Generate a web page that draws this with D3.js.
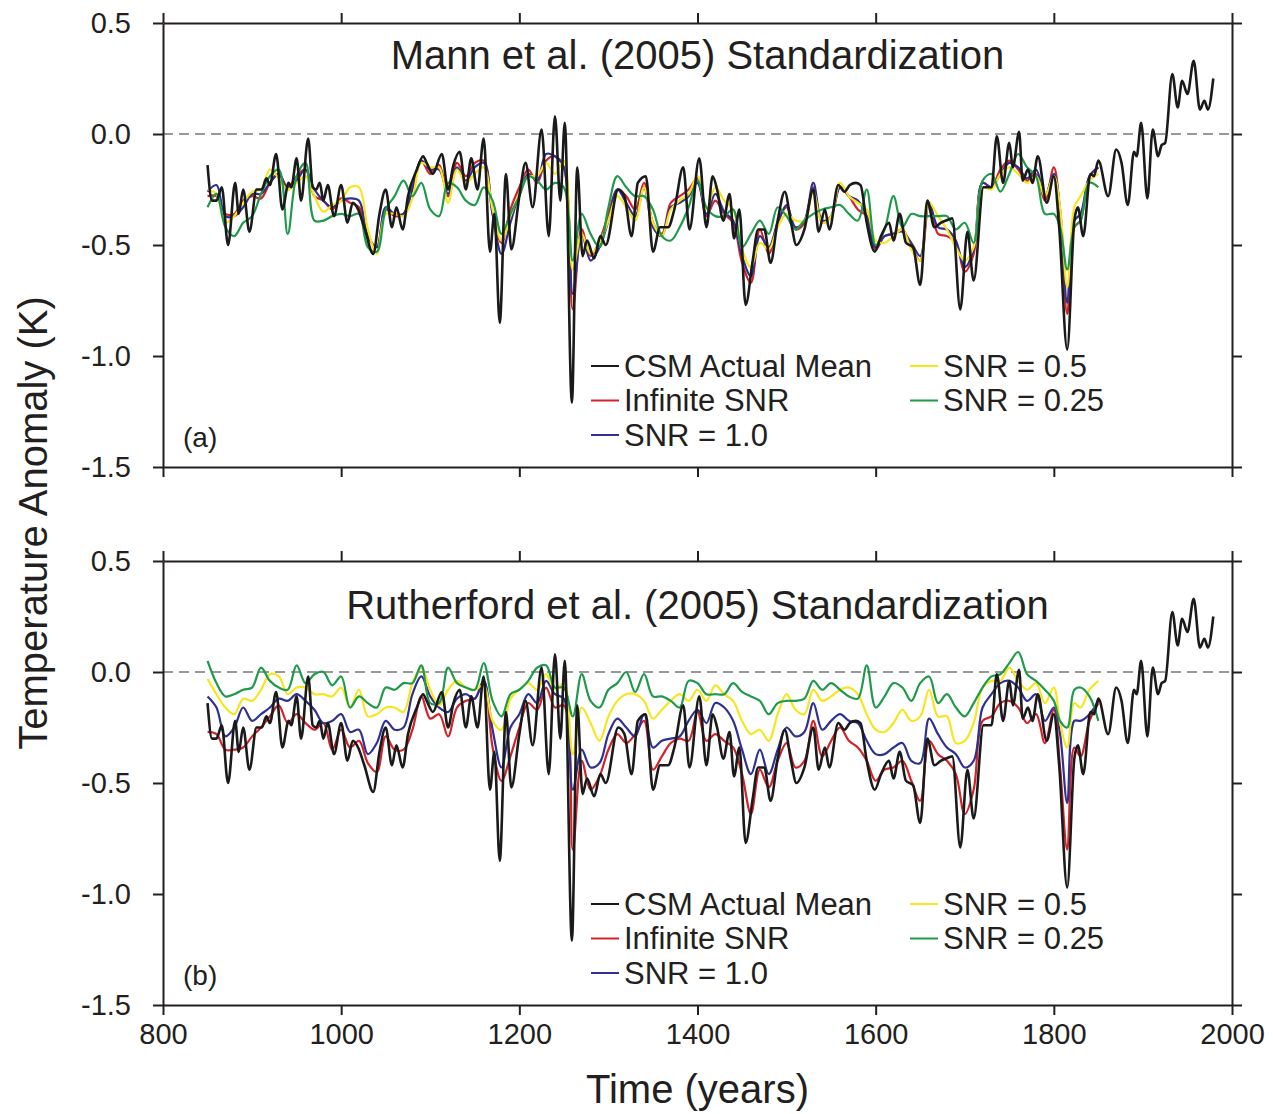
<!DOCTYPE html>
<html>
<head>
<meta charset="utf-8">
<script src="https://cdnjs.cloudflare.com/ajax/libs/d3/7.8.5/d3.min.js"></script>
<style>
  body { margin: 0; background: #fff; }
  svg text { font-family: "Liberation Sans", Arial, sans-serif; fill: #231f20; }
</style>
</head>
<body>
<div id="wrapper"></div>
<script>
// CSM actual mean (turning points)
var blackYears = [850,855,860,866,873,881,885,890,897,905,911,916,920,927,934,941,944,950,955,963,968,972,976,980,985,992,1000,1007,1013,1019,1026,1036,1043,1050,1057,1062,1069,1075,1085,1092,1096,1103,1113,1120,1126,1133,1140,1146,1153,1160,1167,1172,1178,1185,1191,1200,1207,1215,1225,1233,1240,1246,1251,1259,1265,1271,1276,1284,1291,1297,1311,1318,1326,1333,1342,1350,1358,1367,1374,1384,1391,1402,1410,1417,1422,1429,1436,1441,1447,1454,1462,1468,1475,1482,1490,1498,1505,1511,1520,1530,1536,1543,1548,1558,1565,1571,1578,1583,1590,1599,1606,1615,1620,1627,1634,1642,1650,1658,1666,1673,1679,1686,1695,1703,1710,1721,1730,1736,1743,1750,1754,1761,1765,1771,1776,1782,1792,1800,1806,1815,1823,1827,1833,1841,1845,1850,1861,1870,1876,1883,1890,1893,1898,1905,1911,1917,1921,1925,1933,1939,1944,1950,1957,1964,1969,1973,1979];
var csmMean = [-0.14,-0.30,-0.30,-0.24,-0.50,-0.22,-0.36,-0.25,-0.44,-0.25,-0.25,-0.20,-0.23,-0.09,-0.34,-0.22,-0.24,-0.11,-0.30,-0.02,-0.24,-0.25,-0.22,-0.30,-0.23,-0.37,-0.23,-0.40,-0.31,-0.34,-0.42,-0.54,-0.36,-0.25,-0.42,-0.33,-0.43,-0.28,-0.16,-0.10,-0.13,-0.18,-0.09,-0.25,-0.14,-0.08,-0.25,-0.11,-0.25,-0.02,-0.53,-0.36,-0.85,-0.18,-0.52,-0.28,-0.13,-0.33,0.02,-0.46,0.08,-0.30,0.05,-1.21,-0.15,-0.55,-0.48,-0.56,-0.46,-0.50,-0.25,-0.28,-0.46,-0.22,-0.19,-0.53,-0.42,-0.42,-0.34,-0.15,-0.43,-0.11,-0.42,-0.19,-0.25,-0.39,-0.27,-0.47,-0.34,-0.77,-0.57,-0.43,-0.43,-0.58,-0.39,-0.26,-0.40,-0.50,-0.43,-0.25,-0.44,-0.34,-0.43,-0.23,-0.26,-0.23,-0.22,-0.23,-0.40,-0.53,-0.46,-0.40,-0.48,-0.36,-0.49,-0.51,-0.68,-0.30,-0.42,-0.40,-0.39,-0.38,-0.79,-0.44,-0.66,-0.24,-0.24,-0.01,-0.22,-0.04,-0.15,0.01,-0.21,-0.16,-0.22,-0.10,-0.31,-0.19,-0.42,-0.97,-0.39,-0.33,-0.46,-0.18,-0.19,-0.12,-0.28,-0.07,-0.13,-0.32,-0.08,-0.10,0.05,-0.29,0.02,-0.10,-0.05,-0.04,0.27,0.12,0.24,0.18,0.33,0.11,0.15,0.11,0.25];

// pseudoproxy reconstruction years
var proxyYears = [850,860,870,880,890,900,910,920,930,940,950,960,970,980,990,1000,1010,1020,1030,1040,1050,1060,1070,1080,1090,1100,1110,1120,1130,1140,1150,1160,1170,1180,1190,1200,1210,1220,1230,1240,1250,1260,1270,1280,1290,1300,1310,1320,1330,1340,1350,1360,1370,1380,1390,1400,1410,1420,1430,1440,1450,1460,1470,1480,1490,1500,1510,1520,1530,1540,1550,1560,1570,1580,1590,1600,1610,1620,1630,1640,1650,1660,1670,1680,1690,1700,1710,1720,1730,1740,1750,1760,1770,1780,1790,1800,1807,1815,1823,1830,1840,1850];

// (a) Mann et al. (2005) standardization
var mannInf = [-0.28,-0.28,-0.36,-0.36,-0.30,-0.28,-0.29,-0.22,-0.18,-0.24,-0.19,-0.16,-0.28,-0.30,-0.34,-0.29,-0.31,-0.33,-0.46,-0.51,-0.34,-0.37,-0.36,-0.24,-0.12,-0.18,-0.14,-0.28,-0.13,-0.19,-0.13,-0.12,-0.36,-0.49,-0.34,-0.24,-0.16,-0.22,-0.12,-0.10,-0.15,-0.79,-0.43,-0.55,-0.48,-0.36,-0.25,-0.28,-0.34,-0.22,-0.40,-0.45,-0.31,-0.28,-0.25,-0.20,-0.37,-0.30,-0.36,-0.40,-0.58,-0.67,-0.43,-0.54,-0.40,-0.33,-0.43,-0.40,-0.24,-0.40,-0.37,-0.24,-0.28,-0.34,-0.37,-0.52,-0.46,-0.45,-0.43,-0.51,-0.57,-0.31,-0.45,-0.46,-0.49,-0.62,-0.54,-0.22,-0.24,-0.16,-0.12,-0.16,-0.21,-0.18,-0.30,-0.15,-0.36,-0.81,-0.42,-0.39,-0.19,-0.15];
var mannSnr1 = [-0.26,-0.23,-0.37,-0.37,-0.33,-0.27,-0.27,-0.22,-0.18,-0.25,-0.21,-0.16,-0.25,-0.30,-0.33,-0.30,-0.29,-0.30,-0.46,-0.51,-0.33,-0.36,-0.36,-0.25,-0.12,-0.16,-0.16,-0.27,-0.15,-0.21,-0.15,-0.13,-0.36,-0.54,-0.40,-0.27,-0.18,-0.21,-0.09,-0.10,-0.15,-0.72,-0.45,-0.57,-0.51,-0.39,-0.25,-0.31,-0.37,-0.24,-0.42,-0.46,-0.33,-0.31,-0.28,-0.22,-0.36,-0.27,-0.35,-0.39,-0.55,-0.64,-0.46,-0.51,-0.40,-0.32,-0.42,-0.39,-0.22,-0.39,-0.37,-0.24,-0.28,-0.30,-0.37,-0.51,-0.46,-0.45,-0.44,-0.49,-0.55,-0.31,-0.42,-0.43,-0.48,-0.60,-0.52,-0.22,-0.24,-0.18,-0.13,-0.15,-0.20,-0.16,-0.28,-0.18,-0.34,-0.76,-0.39,-0.36,-0.19,-0.15];
var mannSnr05 = [-0.25,-0.27,-0.40,-0.37,-0.31,-0.26,-0.25,-0.16,-0.20,-0.25,-0.22,-0.19,-0.28,-0.35,-0.32,-0.30,-0.24,-0.24,-0.43,-0.54,-0.36,-0.36,-0.37,-0.29,-0.13,-0.15,-0.15,-0.31,-0.16,-0.22,-0.18,-0.15,-0.34,-0.48,-0.37,-0.27,-0.19,-0.19,-0.13,-0.18,-0.12,-0.61,-0.45,-0.54,-0.49,-0.39,-0.28,-0.33,-0.39,-0.24,-0.40,-0.46,-0.34,-0.30,-0.27,-0.19,-0.34,-0.24,-0.30,-0.34,-0.52,-0.60,-0.49,-0.52,-0.42,-0.36,-0.39,-0.39,-0.26,-0.40,-0.37,-0.22,-0.28,-0.31,-0.34,-0.48,-0.49,-0.46,-0.43,-0.52,-0.57,-0.31,-0.37,-0.43,-0.51,-0.57,-0.51,-0.24,-0.25,-0.18,-0.15,-0.18,-0.22,-0.19,-0.28,-0.19,-0.33,-0.69,-0.33,-0.28,-0.21,-0.18];
var mannSnr025 = [-0.33,-0.27,-0.42,-0.46,-0.40,-0.37,-0.27,-0.19,-0.16,-0.45,-0.19,-0.13,-0.39,-0.39,-0.37,-0.36,-0.37,-0.36,-0.51,-0.53,-0.34,-0.28,-0.21,-0.28,-0.22,-0.34,-0.37,-0.22,-0.24,-0.30,-0.32,-0.24,-0.30,-0.45,-0.36,-0.28,-0.19,-0.21,-0.25,-0.22,-0.24,-0.57,-0.36,-0.45,-0.51,-0.33,-0.19,-0.24,-0.28,-0.28,-0.34,-0.46,-0.48,-0.42,-0.33,-0.21,-0.33,-0.37,-0.37,-0.34,-0.51,-0.45,-0.39,-0.45,-0.33,-0.37,-0.43,-0.39,-0.36,-0.34,-0.33,-0.32,-0.36,-0.39,-0.25,-0.50,-0.43,-0.28,-0.42,-0.36,-0.37,-0.37,-0.37,-0.37,-0.43,-0.40,-0.49,-0.21,-0.18,-0.26,-0.18,-0.09,-0.15,-0.19,-0.36,-0.36,-0.42,-0.61,-0.42,-0.39,-0.22,-0.24];

// (b) Rutherford et al. (2005) standardization
var ruthInf = [-0.27,-0.28,-0.35,-0.35,-0.34,-0.29,-0.25,-0.20,-0.15,-0.23,-0.19,-0.23,-0.26,-0.23,-0.35,-0.26,-0.34,-0.31,-0.41,-0.45,-0.29,-0.35,-0.35,-0.26,-0.11,-0.21,-0.19,-0.29,-0.16,-0.13,-0.12,-0.04,-0.34,-0.49,-0.38,-0.25,-0.14,-0.17,-0.07,-0.16,-0.15,-0.80,-0.40,-0.53,-0.47,-0.35,-0.28,-0.32,-0.28,-0.22,-0.44,-0.38,-0.32,-0.30,-0.31,-0.18,-0.31,-0.28,-0.31,-0.34,-0.46,-0.64,-0.44,-0.52,-0.40,-0.32,-0.43,-0.40,-0.22,-0.38,-0.31,-0.25,-0.31,-0.34,-0.40,-0.49,-0.44,-0.43,-0.40,-0.49,-0.58,-0.31,-0.37,-0.40,-0.46,-0.64,-0.53,-0.22,-0.20,-0.14,-0.13,-0.16,-0.23,-0.19,-0.32,-0.17,-0.43,-0.80,-0.34,-0.38,-0.22,-0.14];
var ruthSnr1 = [-0.11,-0.16,-0.29,-0.25,-0.16,-0.22,-0.19,-0.16,-0.12,-0.13,-0.10,-0.13,-0.17,-0.23,-0.22,-0.19,-0.27,-0.26,-0.37,-0.32,-0.22,-0.26,-0.25,-0.10,-0.02,-0.11,-0.16,-0.18,-0.12,-0.10,-0.12,-0.04,-0.26,-0.43,-0.25,-0.19,-0.10,-0.14,-0.04,-0.10,-0.12,-0.53,-0.35,-0.43,-0.41,-0.28,-0.21,-0.25,-0.29,-0.19,-0.34,-0.31,-0.30,-0.29,-0.22,-0.17,-0.23,-0.14,-0.16,-0.22,-0.35,-0.46,-0.35,-0.46,-0.35,-0.25,-0.29,-0.27,-0.14,-0.26,-0.22,-0.19,-0.22,-0.23,-0.31,-0.37,-0.37,-0.34,-0.32,-0.40,-0.41,-0.21,-0.28,-0.34,-0.37,-0.43,-0.40,-0.16,-0.10,-0.05,-0.04,-0.07,-0.13,-0.10,-0.22,-0.16,-0.28,-0.59,-0.22,-0.22,-0.19,-0.13];
var ruthSnr05 = [-0.03,-0.10,-0.16,-0.19,-0.12,-0.13,-0.08,-0.01,-0.02,-0.10,-0.07,-0.07,-0.10,-0.10,-0.11,-0.07,-0.16,-0.08,-0.20,-0.19,-0.16,-0.16,-0.18,-0.05,0.02,-0.08,-0.15,-0.08,-0.04,-0.07,-0.08,-0.06,-0.22,-0.26,-0.12,-0.08,-0.05,-0.08,-0.01,-0.08,-0.05,-0.37,-0.16,-0.23,-0.31,-0.20,-0.13,-0.10,-0.10,-0.13,-0.21,-0.17,-0.13,-0.10,-0.13,-0.08,-0.13,-0.06,-0.10,-0.13,-0.22,-0.28,-0.26,-0.31,-0.19,-0.10,-0.17,-0.19,-0.08,-0.13,-0.11,-0.08,-0.07,-0.10,-0.19,-0.26,-0.27,-0.23,-0.17,-0.22,-0.20,-0.08,-0.20,-0.20,-0.32,-0.31,-0.23,-0.07,-0.04,-0.04,0.02,-0.04,-0.08,-0.05,-0.14,-0.07,-0.23,-0.34,-0.14,-0.16,-0.08,-0.04];
var ruthSnr025 = [0.05,-0.05,-0.11,-0.10,-0.08,-0.07,0.02,-0.04,-0.07,-0.08,0.03,-0.05,-0.01,0.00,-0.06,-0.02,-0.16,-0.11,-0.14,-0.16,-0.07,-0.08,-0.05,-0.05,0.03,-0.14,-0.14,0.02,-0.05,-0.07,-0.08,0.04,-0.13,-0.20,-0.10,-0.08,-0.04,0.02,0.03,-0.07,-0.07,-0.20,-0.01,-0.13,-0.16,-0.08,-0.05,0.00,-0.09,-0.01,-0.11,-0.11,-0.13,-0.16,-0.04,-0.05,-0.10,-0.10,-0.10,-0.05,-0.09,-0.11,-0.13,-0.19,-0.14,-0.13,-0.13,-0.12,-0.04,-0.08,-0.05,-0.08,-0.11,-0.12,0.03,-0.16,-0.11,-0.05,-0.07,-0.13,-0.05,-0.02,-0.14,-0.10,-0.16,-0.20,-0.14,-0.07,-0.02,-0.01,0.04,0.09,-0.01,-0.04,-0.08,-0.13,-0.22,-0.25,-0.08,-0.07,-0.11,-0.22];

var xTicks = [800,1000,1200,1400,1600,1800,2000];
var yTicks = [-1.5,-1.0,-0.5,0.0,0.5];
var seriesNames = ['CSM Actual Mean','Infinite SNR','SNR = 1.0','SNR = 0.5','SNR = 0.25'];
var seriesColors = ['#1a1a1a','#d2232a','#2e3192','#f7e51e','#1f9a4a'];

var panels = [
  {title:'Mann et al. (2005) Standardization', tag:'(a)', top:23, titleY:46, series:[mannInf,mannSnr1,mannSnr05,mannSnr025]},
  {title:'Rutherford et al. (2005) Standardization', tag:'(b)', top:561, titleY:58, series:[ruthInf,ruthSnr1,ruthSnr05,ruthSnr025]}
];

var W = 1273, H = 1114, left = 163, right = 1232, ph = 444;

var svg = d3.select('#wrapper').append('svg')
            .attr('width', W)
            .attr('height', H);

var xscale = d3.scaleLinear().domain([800,2000]).range([left,right]);
var fmt = function(d){ return d.toFixed(1); };

panels.forEach(function(p, pi){
  var yscale = d3.scaleLinear().domain([-1.5,0.5]).range([p.top+ph, p.top]);
  var g = svg.append('g').attr('class','panel');

  // zero reference
  g.append('line')
   .attr('x1', left).attr('x2', right)
   .attr('y1', yscale(0)).attr('y2', yscale(0))
   .style('stroke','#999').style('stroke-width',2).style('stroke-dasharray','10,6');

  var line = d3.line()
               .x(function(d){ return xscale(d[0]); })
               .y(function(d){ return yscale(d[1]); })
               .curve(d3.curveCatmullRom.alpha(0.5));

  // proxies: red, blue, yellow, green
  p.series.forEach(function(vals, si){
    g.append('path')
     .datum(proxyYears.map(function(y,i){ return [y, vals[i]]; }))
     .attr('d', line)
     .style('fill','none')
     .style('stroke', seriesColors[si+1])
     .style('stroke-width', 2.2);
  });

  // CSM mean on top
  g.append('path')
   .datum(blackYears.map(function(y,i){ return [y, csmMean[i]]; }))
   .attr('d', line.curve(d3.curveMonotoneX))
   .style('fill','none')
   .style('stroke', seriesColors[0])
   .style('stroke-width', 2.6);

  // frame axes, ticks pointing out on all sides
  var bottom = d3.axisBottom(xscale).tickValues(xTicks).tickSize(10).tickSizeOuter(0).tickPadding(8)
                 .tickFormat(function(d){ return String(d); });
  if(pi===0){ bottom.tickFormat(''); }
  g.append('g').attr('class','axis').attr('transform','translate(0,'+(p.top+ph)+')').call(bottom);
  g.append('g').attr('class','axis').attr('transform','translate(0,'+p.top+')')
   .call(d3.axisTop(xscale).tickValues(xTicks).tickSize(10).tickSizeOuter(0).tickFormat(''));
  g.append('g').attr('class','axis').attr('transform','translate('+left+',0)')
   .call(d3.axisLeft(yscale).tickValues(yTicks).tickSize(10).tickSizeOuter(0).tickPadding(22).tickFormat(fmt));
  g.append('g').attr('class','axis').attr('transform','translate('+right+',0)')
   .call(d3.axisRight(yscale).tickValues(yTicks).tickSize(10).tickSizeOuter(0).tickFormat(''));

  g.append('text')
   .attr('x', (left+right)/2).attr('y', p.top+p.titleY)
   .attr('text-anchor','middle')
   .style('font-size','40px')
   .text(p.title);

  g.append('text')
   .attr('x', 183).attr('y', p.top+414)
   .attr('dominant-baseline','central')
   .style('font-size','28px')
   .text(p.tag);

  // legend, two columns
  var items = [[0,591,343],[1,591,377.5],[2,591,412],[3,910,343],[4,910,377.5]];
  var leg = g.selectAll('g.leg').data(items).enter().append('g').attr('class','leg');
  leg.append('line')
     .attr('x1', function(d){ return d[1]; })
     .attr('x2', function(d){ return d[1]+28; })
     .attr('y1', function(d){ return p.top+d[2]; })
     .attr('y2', function(d){ return p.top+d[2]; })
     .style('stroke', function(d){ return seriesColors[d[0]]; })
     .style('stroke-width', 2);
  leg.append('text')
     .attr('x', function(d){ return d[1]+33; })
     .attr('y', function(d){ return p.top+d[2]; })
     .attr('dominant-baseline','central')
     .style('font-size','31px')
     .text(function(d){ return seriesNames[d[0]]; });
});

svg.selectAll('.axis path, .axis line').style('stroke','#231f20').style('stroke-width',2);
svg.selectAll('.axis text').style('font-size','29px').style('fill','#231f20')
   .style('font-family','"Liberation Sans", Arial, sans-serif');

svg.append('text')
   .attr('transform','translate(33,523) rotate(-90)')
   .attr('text-anchor','middle')
   .attr('dominant-baseline','central')
   .style('font-size','40px')
   .text('Temperature Anomaly (K)');

svg.append('text')
   .attr('x', (left+right)/2).attr('y', 1103)
   .attr('text-anchor','middle')
   .style('font-size','40px')
   .text('Time (years)');
</script>
</body>
</html>
